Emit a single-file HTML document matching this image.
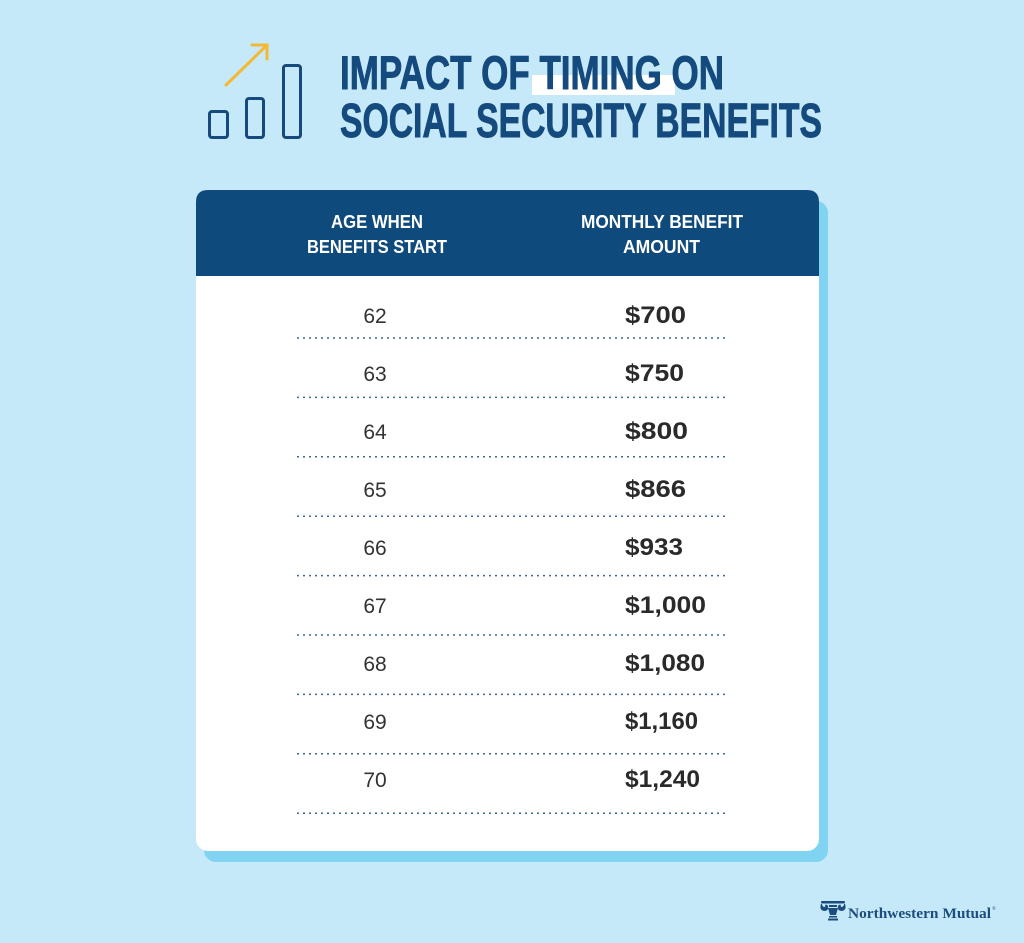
<!DOCTYPE html>
<html>
<head>
<meta charset="utf-8">
<style>
  html,body{margin:0;padding:0;background:#c5e9f8;}
  svg{display:block;}
</style>
</head>
<body>
<svg width="1024" height="943" viewBox="0 0 1024 943" xmlns="http://www.w3.org/2000/svg">
  <rect x="0" y="0" width="1024" height="943" fill="#c5e9f8"/>

  <!-- icon -->
  <g fill="none" stroke="#164a7c" stroke-width="3" stroke-linejoin="round">
    <rect x="209.5" y="111.5" width="18" height="26" rx="2.5"/>
    <rect x="246.5" y="98.5" width="17" height="39" rx="2.5"/>
    <rect x="283.5" y="65.5" width="17" height="72" rx="2.5"/>
  </g>
  <g fill="none" stroke="#f4b934" stroke-width="3" stroke-linecap="round">
    <line x1="226" y1="85" x2="266" y2="46"/>
    <polyline points="252,45 267,45 267,59"/>
  </g>

  <!-- title -->
  <rect x="532" y="75" width="143" height="20" fill="#ffffff"/>
  <text x="340" y="89" font-family="Liberation Sans, sans-serif" font-weight="bold" font-size="47" fill="#144a7d" stroke="#144a7d" stroke-width="0.9" textLength="384" lengthAdjust="spacingAndGlyphs">IMPACT OF TIMING ON</text>
  <text x="340" y="137" font-family="Liberation Sans, sans-serif" font-weight="bold" font-size="48" fill="#144a7d" stroke="#144a7d" stroke-width="0.9" textLength="482" lengthAdjust="spacingAndGlyphs">SOCIAL SECURITY BENEFITS</text>

  <!-- card shadow -->
  <rect x="204" y="201" width="624" height="661" rx="12" fill="#80d4f2"/>
  <!-- card -->
  <rect x="196" y="190" width="623" height="661" rx="12" fill="#ffffff"/>
  <path d="M196,276 L196,202 Q196,190 208,190 L807,190 Q819,190 819,202 L819,276 Z" fill="#0f4a7c"/>

  <!-- header text -->
  <g font-family="Liberation Sans, sans-serif" font-weight="bold" font-size="18" fill="#ffffff">
    <text x="331" y="228" textLength="92" lengthAdjust="spacingAndGlyphs">AGE WHEN</text>
    <text x="307" y="253" textLength="140" lengthAdjust="spacingAndGlyphs">BENEFITS START</text>
    <text x="581" y="228" textLength="162" lengthAdjust="spacingAndGlyphs">MONTHLY BENEFIT</text>
    <text x="623" y="253" textLength="77" lengthAdjust="spacingAndGlyphs">AMOUNT</text>
  </g>

  <!-- dotted lines -->
  <g stroke="#3f6a8c" stroke-width="1.5" stroke-dasharray="2 4" fill="none">
    <line x1="297" y1="338" x2="726" y2="338"/>
    <line x1="297" y1="397.4" x2="726" y2="397.4"/>
    <line x1="297" y1="456.8" x2="726" y2="456.8"/>
    <line x1="297" y1="516.2" x2="726" y2="516.2"/>
    <line x1="297" y1="575.6" x2="726" y2="575.6"/>
    <line x1="297" y1="635" x2="726" y2="635"/>
    <line x1="297" y1="694.4" x2="726" y2="694.4"/>
    <line x1="297" y1="753.8" x2="726" y2="753.8"/>
    <line x1="297" y1="813.2" x2="726" y2="813.2"/>
  </g>

  <!-- ages -->
  <g font-family="Liberation Sans, sans-serif" font-size="21" fill="#333333" text-anchor="middle">
    <text x="375" y="323">62</text>
    <text x="375" y="381">63</text>
    <text x="375" y="439">64</text>
    <text x="375" y="497">65</text>
    <text x="375" y="555">66</text>
    <text x="375" y="613">67</text>
    <text x="375" y="671">68</text>
    <text x="375" y="729">69</text>
    <text x="375" y="787">70</text>
  </g>

  <!-- values -->
  <g font-family="Liberation Sans, sans-serif" font-weight="bold" font-size="24" fill="#2a2a2a">
    <text x="625" y="323" textLength="61" lengthAdjust="spacingAndGlyphs">$700</text>
    <text x="625" y="381" textLength="59" lengthAdjust="spacingAndGlyphs">$750</text>
    <text x="625" y="439" textLength="63" lengthAdjust="spacingAndGlyphs">$800</text>
    <text x="625" y="497" textLength="61" lengthAdjust="spacingAndGlyphs">$866</text>
    <text x="625" y="555" textLength="58" lengthAdjust="spacingAndGlyphs">$933</text>
    <text x="625" y="613" textLength="81" lengthAdjust="spacingAndGlyphs">$1,000</text>
    <text x="625" y="671" textLength="80" lengthAdjust="spacingAndGlyphs">$1,080</text>
    <text x="625" y="729" textLength="73" lengthAdjust="spacingAndGlyphs">$1,160</text>
    <text x="625" y="787" textLength="75" lengthAdjust="spacingAndGlyphs">$1,240</text>
  </g>

  <!-- logo -->
  <g fill="#1c4d7e">
    <rect x="821" y="901" width="24" height="2.5" rx="1"/>
    <path d="M821,904 q-2,6 3,7 q5,0 4,-5 q-1,-2 -3,-1 q1,2 -1,2 q-2,-1 -2,-3 Z"/>
    <path d="M845,904 q2,6 -3,7 q-5,0 -4,-5 q1,-2 3,-1 q-1,2 1,2 q2,-1 2,-3 Z"/>
    <rect x="829" y="905" width="8" height="2"/>
    <path d="M828,908 L838,908 L836,915 L830,915 Z"/>
    <rect x="829" y="916" width="8" height="1.5"/>
    <rect x="828" y="918.5" width="10" height="2"/>
  </g>
  <text x="848" y="918" font-family="Liberation Serif, serif" font-weight="bold" font-size="15" fill="#1c4d7e" textLength="143" lengthAdjust="spacingAndGlyphs">Northwestern Mutual</text>
  <text x="992" y="910" font-family="Liberation Serif, serif" font-size="5" fill="#1c4d7e">®</text>
</svg>
</body>
</html>
